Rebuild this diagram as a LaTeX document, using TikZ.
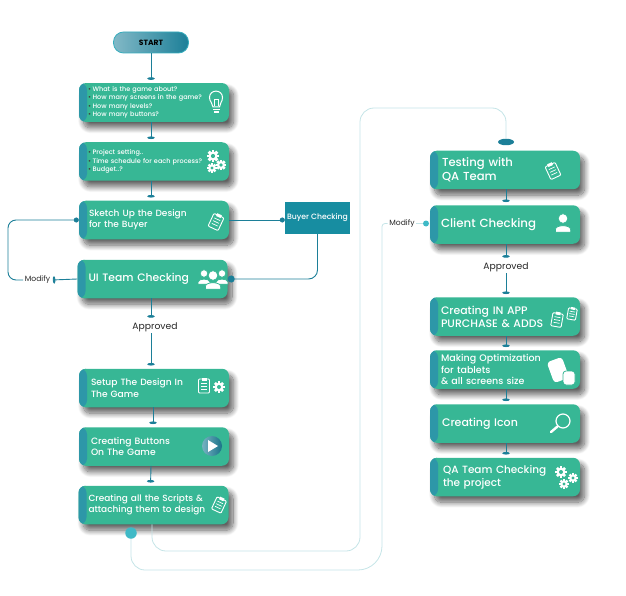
\documentclass[tikz,border=0pt]{standalone}
\usepackage{fontspec}
\setmainfont{Poppins}
\newfontfamily\stagefont{Poppins Medium}
\usetikzlibrary{arrows.meta,shapes.geometric,shadows.blur}
\definecolor{StageGreen}{RGB}{55,183,149}
\definecolor{TabTeal}   {RGB}{45,151,168}
\definecolor{FlowTeal}  {RGB}{28,127,152}
\definecolor{BuyerTeal} {RGB}{23,141,161}
\definecolor{RailTeal}  {RGB}{196,228,231}
\definecolor{DotTeal}   {RGB}{63,185,198}
\newcommand{\qitem}[1]{\textcolor{black!75}{\textbullet}\hspace{1.6pt}#1}
\tikzset{
  stagebox/.style={rectangle,rounded corners=7pt,fill=StageGreen,text=white,align=left,
    minimum height=38.5pt,inner xsep=#1pt,text width=150pt-2*#1pt,
    blur shadow={shadow xshift=4.5pt,shadow yshift=-6pt,shadow blur radius=5.5pt,shadow blur steps=14,shadow opacity=62},
    path picture={\fill[TabTeal] (path picture bounding box.north west) rectangle
      ([xshift=8pt]path picture bounding box.south west);}},
  flowline/.style={draw=FlowTeal,line width=.9pt},
  dropline/.style={flowline,shorten >=3pt,-{Ellipse[length=2.6pt,width=7pt]}},
  rail/.style={draw=RailTeal,line width=.8pt},
  note/.style={font=\fontsize{#1}{#1}\selectfont,inner sep=1.5pt,text=black!85},
  clipicon/.pic={
    \draw[white,line width=.9pt,rounded corners=1pt] (-5.5,-7) rectangle (5.5,7);
    \fill[white] (-2.5,-8.5) rectangle (2.5,-5.5);
    \foreach \ly in {-3,0,3}{\draw[white,line width=.7pt] (-3.2,\ly) -- (3.2,\ly);}
  },
  gearicon/.pic={
    \fill[white] (0,0) circle (4.4);
    \foreach \a in {0,45,...,315}{\fill[white,rotate=\a] (-1.4,3.4) rectangle (1.4,5.8);}
    \fill[StageGreen] (0,0) circle (2);
  },
  personicon/.pic={
    \filldraw[white,draw=StageGreen,line width=.7pt] (0,-4.5) circle (4.8);
    \filldraw[white,draw=StageGreen,line width=.7pt] (-7.6,9.2) -- (-7.6,6.5) .. controls (-7.6,1.5) and (7.6,1.5) .. (7.6,6.5) -- (7.6,9.2) -- cycle;
  }
}
\begin{document}
\begin{tikzpicture}[x=1pt,y=-1pt]
  \useasboundingbox (0,0) rectangle (626,596);

  \node[draw=DotTeal!80!FlowTeal,line width=.8pt,rounded corners=10pt,left color=FlowTeal!55!white,right color=FlowTeal,
    minimum width=75pt,minimum height=21pt,inner sep=0pt,font=\fontsize{7.6}{7.6}\selectfont\bfseries] (start) at (151,42.5) {START};

  \foreach \n/\cx/\cy/\pad/\fs/\ls/\txt in {
    scope/154/102.5/9/6.5/8.5/{\qitem{What is the game about?}\\\qitem{How many screens in the game?}\\\qitem{How many levels?}\\\qitem{How many buttons?}},
    plan/154/161.5/9/6.5/8.5/{\qitem{Project setting..}\\\qitem{Time schedule for each process?}\\\qitem{Budget..?}},
    sketch/154/220/10/9/11/{Sketch Up the Design\\for the Buyer},
    uiteam/152.5/279/11/10.8/12/{UI Team Checking},
    setup/154/388/12/9.1/11.5/{Setup The Design In\\The Game},
    buttons/154/446.5/12/9.2/11/{Creating Buttons\\On The Game},
    scripts/153.5/505/10/8.95/11/{Creating all the Scripts \&\\attaching them to design},
    testing/505/170/12/11.6/14/{Testing with\\QA Team},
    client/505/224.5/11/11.8/12/{Client Checking},
    inapp/505/316.5/11/10.9/13/{Creating IN APP\\PURCHASE \& ADDS},
    optimize/505/369.5/11/9.5/11.7/{Making Optimization\\for tablets\\\& all screens size},
    icon/505/423.5/12/11/12/{Creating Icon},
    qafinal/505/477/13/10.5/13/{QA Team Checking\\the project}}{
    \node[stagebox=\pad,font=\stagefont\fontsize{\fs}{\ls}\selectfont] (\n) at (\cx,\cy) {\txt};
  }

  \node[fill=BuyerTeal,text=white,minimum width=65pt,minimum height=32pt,inner sep=0pt,font=\stagefont\fontsize{7.7}{7.7}\selectfont] (buyer) at (317.5,218) {Buyer Checking};
  \node[note=7.6] (modifyA) at (37.5,280) {Modify};
  \node[note=9.2] (approvedA) at (155,327) {Approved};
  \node[note=7.6] (modifyB) at (402,223.5) {Modify};
  \node[note=9.2] (approvedB) at (506,267) {Approved};
  \node[circle,fill=DotTeal,minimum size=11.5pt,inner sep=0pt] (scriptdot) at (131,533) {};
  \node[circle,fill=DotTeal,minimum size=6pt,inner sep=0pt] (clientdot) at (426,223.5) {};
  \node[ellipse,fill=FlowTeal,minimum width=16pt,minimum height=6.5pt,inner sep=0pt] (testdot) at (506,142) {};
  \coordinate (loopL) at (8,250);
  \coordinate (railA) at (360,551);
  \coordinate (railB) at (360,108);
  \coordinate (railC) at (382,570);
  \coordinate (railD) at (382,223.5);

  \draw[dropline] (start.south) -- ([xshift=-3pt]scope.north);
  \foreach \a/\b/\dx in {scope/plan/-3,plan/sketch/-3,setup/buttons/-1,buttons/scripts/-3,testing/client/1,inapp/optimize/1,optimize/icon/1,icon/qafinal/1}{
    \draw[dropline] ([xshift=\dx pt]\a.south) -- ([xshift=\dx pt]\b.north);
  }
  \draw[dropline] ([xshift=-1.5pt]uiteam.south) -- ([xshift=-1.5pt]uiteam.south |- approvedA.north);
  \draw[dropline] ([xshift=-4pt]approvedA.south) -- ([xshift=-3pt]setup.north);
  \draw[dropline] ([xshift=1pt]client.south) -- ([xshift=1pt]client.south |- approvedB.north);
  \draw[dropline] (approvedB.south) -- ([xshift=1pt]inapp.north);

  \draw[flowline,-{Circle[length=5pt]}] (sketch.east) -- (sketch.east -| buyer.west);
  \draw[flowline,rounded corners=9pt,-{Circle[length=7pt]}] (buyer.south) |- (uiteam.east);
  \draw[flowline,shorten >=1pt,-{Ellipse[length=2.6pt,width=7pt]}] (uiteam.west) -- (modifyA.east);
  \draw[flowline,rounded corners=8pt,-{Circle[length=5pt]}] (modifyA.west) -- (modifyA.west -| loopL) -- (sketch.west -| loopL) -- (sketch.west);

  \draw[rail,rounded corners=14pt] ([xshift=-1.5pt]scripts.south) |- (railA) -- (railB) -| (testdot.north);
  \draw[rail,rounded corners=14pt] (scriptdot.south) -- (scriptdot.south |- railC) [rounded corners=24pt] -- (railC) [rounded corners=3pt] -- (railD) -- (modifyB.west);
  \draw[rail] (modifyB.east) -- (clientdot.west);

  % white glyphs sitting on the boxes
  \draw[white,line width=1pt] (213,107) .. controls (213,103) and (209.5,102) .. (209.5,97.5) .. controls (209.5,89) and (222.5,89) .. (222.5,97.5) .. controls (222.5,102) and (219.5,103) .. (219.5,107) -- cycle;
  \draw[white,line width=1.5pt] (213,109.5) -- (219.5,109.5);
  \draw[white,line width=1.2pt] (214,112) -- (218.5,112);
  \draw[white,line width=.7pt] (214.5,106) -- (214.5,99) -- (218,99) -- (218,106);
  \pic[scale=1.05] at (213,156) {gearicon};
  \pic[scale=.85] at (212,168) {gearicon};
  \pic[scale=.9] at (221,165) {gearicon};
  \pic[rotate=-25] at (216,222) {clipicon};
  \pic[scale=.78] at (204,277) {personicon};
  \pic[scale=.78] at (222,277) {personicon};
  \pic[scale=1] at (213,280) {personicon};
  \pic at (204,386) {clipicon};
  \pic at (219,387) {gearicon};
  \shade[left color=FlowTeal!60!white,right color=FlowTeal!90!black] (212,446) circle (10);
  \fill[white] (208,440) -- (218,446) -- (208,452) -- cycle;
  \pic[rotate=-25,scale=.95] at (219,505) {clipicon};
  \pic[rotate=25] at (553,171) {clipicon};
  \pic at (563,223) {personicon};
  \pic[rotate=-10,scale=.95] at (557,320) {clipicon};
  \pic[rotate=-10,scale=.8] at (572,314) {clipicon};
  \fill[white,rounded corners=3.5pt,rotate around={20:(558,370)}] (550,359) rectangle (566,381);
  \filldraw[white,draw=StageGreen,line width=.8pt,rounded corners=3pt] (563,371) rectangle (575,385);
  \draw[white,line width=1.2pt] (563,421) circle (7);
  \draw[white,line width=2.4pt,line cap=round] (557.5,426.5) -- (551,432);
  \pic at (561,472) {gearicon};
  \pic[scale=.85] at (573,478) {gearicon};
  \pic[scale=.85] at (564,484) {gearicon};
\end{tikzpicture}
\end{document}
